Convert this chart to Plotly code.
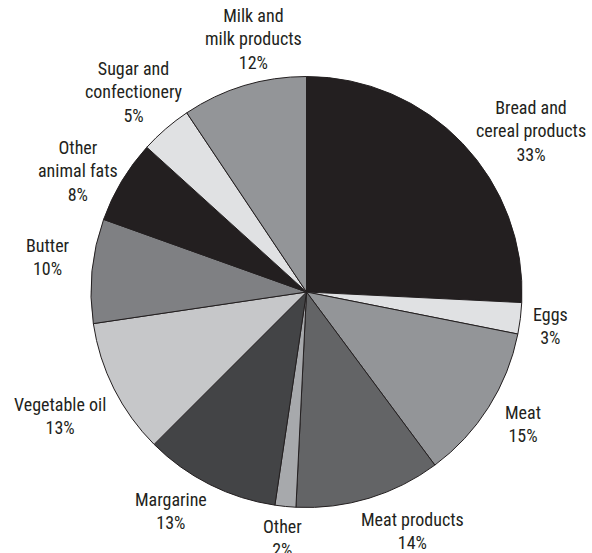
import math
import plotly.graph_objects as go

# Share of spending by food group, clockwise from 12 o'clock
categories = [
    "Bread and<br>cereal products",
    "Eggs",
    "Meat",
    "Meat products",
    "Other",
    "Margarine",
    "Vegetable oil",
    "Butter",
    "Other<br>animal fats",
    "Sugar and<br>confectionery",
    "Milk and<br>milk products",
]
values = [33, 3, 15, 14, 2, 13, 13, 10, 8, 5, 12]
colors = [
    "#231f20", "#e0e1e3", "#939598", "#636466", "#a7a9ac", "#434446",
    "#c6c7c9", "#7f8083", "#231f20", "#e0e1e3", "#939598",
]

# Label placement: distance of each label centre from the pie centre (px)
# and a small angular nudge away from the slice's mid-angle (degrees)
label_radius = [276, 246, 253, 261, 247, 258, 276, 261, 259, 264, 259]
label_nudge = [8, 1, -1, -7, 0, 5, 0, 2, -3, 0, 5]

W, H = 592, 553
ML, MR, MT, MB = 91, 70, 76, 45
plot_w = W - ML - MR
plot_h = H - MT - MB
cx = ML + plot_w / 2
cy = MT + plot_h / 2

fig = go.Figure(
    go.Pie(
        labels=[c.replace("<br>", " ") for c in categories],
        values=values,
        textinfo="none",
        sort=False,
        direction="clockwise",
        rotation=0,
        marker=dict(colors=colors, line=dict(color="#231f20", width=1)),
        showlegend=False,
        hoverinfo="label+value",
    )
)

font = dict(
    family="Liberation Sans Narrow, Roboto Condensed, Arial Narrow, sans-serif",
    size=18,
    color="#231f20",
)

total = sum(values)
cum = 0
for cat, val, rad, nudge in zip(categories, values, label_radius, label_nudge):
    mid = (cum + val / 2) / total * 360 + nudge
    cum += val
    a = math.radians(mid)
    px = cx + rad * math.sin(a)
    py = cy - rad * math.cos(a)
    fig.add_annotation(
        x=(px - ML) / plot_w,
        y=(H - MB - py) / plot_h,
        xref="paper",
        yref="paper",
        text=f"{cat}<br>{val}%",
        showarrow=False,
        xanchor="center",
        yanchor="middle",
        align="center",
        font=font,
    )

fig.update_layout(
    width=W,
    height=H,
    margin=dict(l=ML, r=MR, t=MT, b=MB),
    paper_bgcolor="white",
    plot_bgcolor="white",
)

fig.write_html("out.html")
